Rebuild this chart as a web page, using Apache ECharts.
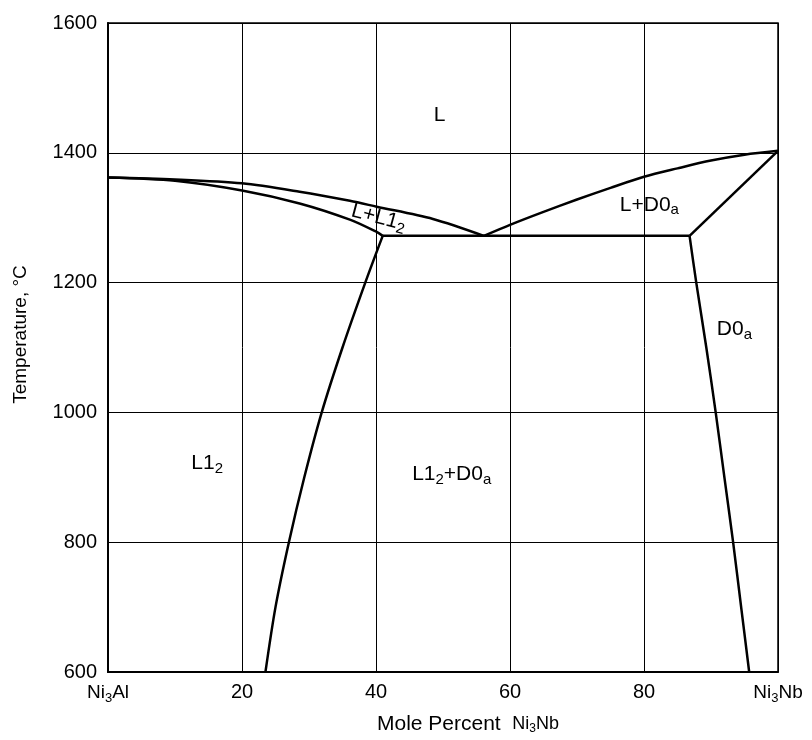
<!DOCTYPE html>
<html>
<head>
<meta charset="utf-8">
<script src="https://cdn.jsdelivr.net/npm/echarts@6/dist/echarts.min.js"></script>
<style>
  html, body { margin: 0; padding: 0; background: #fff; }
  #chart { width: 812px; height: 740px; }
</style>
</head>
<body>
<div id="chart"></div>
<script>
// phase boundaries, [mole % Ni3Nb, temperature °C]
const liquidusLeft = [[0, 1362], [10, 1359], [20, 1353], [28.6, 1340], [36.1, 1326], [40.1, 1317], [48.5, 1298], [56.1, 1272]]
const solidusLeft = [[0, 1362], [10, 1357], [20, 1342], [28.6, 1322], [36.1, 1297], [40.1, 1278], [41.0, 1272]]
const solvusLeft = [[41.0, 1272], [38.4, 1200], [35.0, 1100], [31.9, 1000], [29.3, 900], [27.0, 800], [25.0, 700], [23.5, 600]]
const liquidusRight = [[56.1, 1272], [60, 1289], [65, 1309], [70, 1328], [75, 1346], [80, 1363], [85, 1376], [90, 1388], [95, 1397], [100, 1403]]
const solidusRight = [[86.8, 1272], [100, 1403]]
const eutectic = [[41.0, 1272], [86.8, 1272]]
const solvusRight = [[86.8, 1272], [87.8, 1200], [89.3, 1100], [90.7, 1000], [92.0, 900], [93.3, 800], [94.5, 700], [95.7, 600]]

// phase field labels: [x, T, rich text, rotation]
const phaseLabels = [
  [49.5, 1458, '{t|L}', 0],
  [40.4, 1300, '{t|L+L1}{s|2}', -15],
  [80.8, 1320, '{t|L+D0}{s|a}', 0],
  [93.5, 1128, '{t|D0}{s|a}', 0],
  [14.8, 922, '{t|L1}{s|2}', 0],
  [51.3, 905, '{t|L1}{s|2}{t|+D0}{s|a}', 0]
]

const xTicks = { 0: '{n|Ni}{s|3}{n|Al}', 100: '{n|Ni}{s|3}{n|Nb}' }

const font = 'Liberation Sans'
const chart = echarts.init(document.getElementById('chart'))

const boundary = (data, smooth) => ({
  type: 'line',
  data: data,
  smooth: smooth,
  showSymbol: false,
  silent: true,
  lineStyle: { color: '#000', width: 2.5 }
})

const tickRich = {
  n: { fontFamily: font, fontSize: 19, color: '#000', lineHeight: 22 },
  s: { fontFamily: font, fontSize: 13, color: '#000', lineHeight: 22, padding: [10, 0, 0, 0] }
}

const labelRich = {
  t: { fontFamily: font, fontSize: 21, color: '#000', lineHeight: 24 },
  s: { fontFamily: font, fontSize: 15, color: '#000', lineHeight: 24, padding: [11, 0, 0, 0] }
}

const option = {
  animation: false,
  backgroundColor: '#fff',
  grid: {
    left: 108, right: 34, top: 23, bottom: 64,
    show: true, borderColor: '#000', borderWidth: 1.5
  },
  xAxis: {
    type: 'value', min: 0, max: 100, interval: 20,
    axisLine: { show: true, lineStyle: { color: '#000', width: 2 } },
    axisTick: { show: false },
    splitLine: { show: true, lineStyle: { color: '#000', width: 1 } },
    axisLabel: {
      margin: 10, color: '#000', fontFamily: font, fontSize: 20,
      formatter: v => xTicks[v] || String(v),
      rich: tickRich
    },
    name: '{n|Mole Percent  }{m|Ni}{sm|3}{m|Nb}',
    nameLocation: 'middle', nameGap: 40,
    nameTextStyle: {
      padding: [0, 0, 0, 50],
      rich: {
        n: { fontFamily: font, fontSize: 21, color: '#000', lineHeight: 24 },
        m: { fontFamily: font, fontSize: 18, color: '#000', lineHeight: 24 },
        sm: { fontFamily: font, fontSize: 12, color: '#000', lineHeight: 24, padding: [10, 0, 0, 0] }
      }
    }
  },
  yAxis: {
    type: 'value', min: 600, max: 1600, interval: 200,
    axisLine: { show: true, lineStyle: { color: '#000', width: 2 } },
    axisTick: { show: false },
    splitLine: { show: true, lineStyle: { color: '#000', width: 1 } },
    axisLabel: {
      margin: 11, color: '#000', fontFamily: font, fontSize: 20,
      formatter: v => String(v)
    },
    name: 'Temperature, °C',
    nameLocation: 'middle', nameGap: 78,
    nameTextStyle: { color: '#000', fontFamily: font, fontSize: 19, padding: [0, 0, 0, 26] }
  },
  series: [
    boundary(liquidusLeft, 0.3),
    boundary(solidusLeft, 0.3),
    boundary(solvusLeft, 0.3),
    boundary(liquidusRight, 0.3),
    boundary(solidusRight, false),
    boundary(eutectic, false),
    boundary(solvusRight, 0.3),
    {
      type: 'scatter',
      symbolSize: 0,
      silent: true,
      itemStyle: { opacity: 1 },
      data: phaseLabels.map(p => ({
        value: [p[0], p[1]],
        label: {
          show: true, position: 'inside', formatter: p[2], rotate: p[3],
          color: '#000', opacity: 1, textBorderWidth: 0, rich: labelRich
        }
      }))
    }
  ]
}

chart.setOption(option)
</script>
</body>
</html>
